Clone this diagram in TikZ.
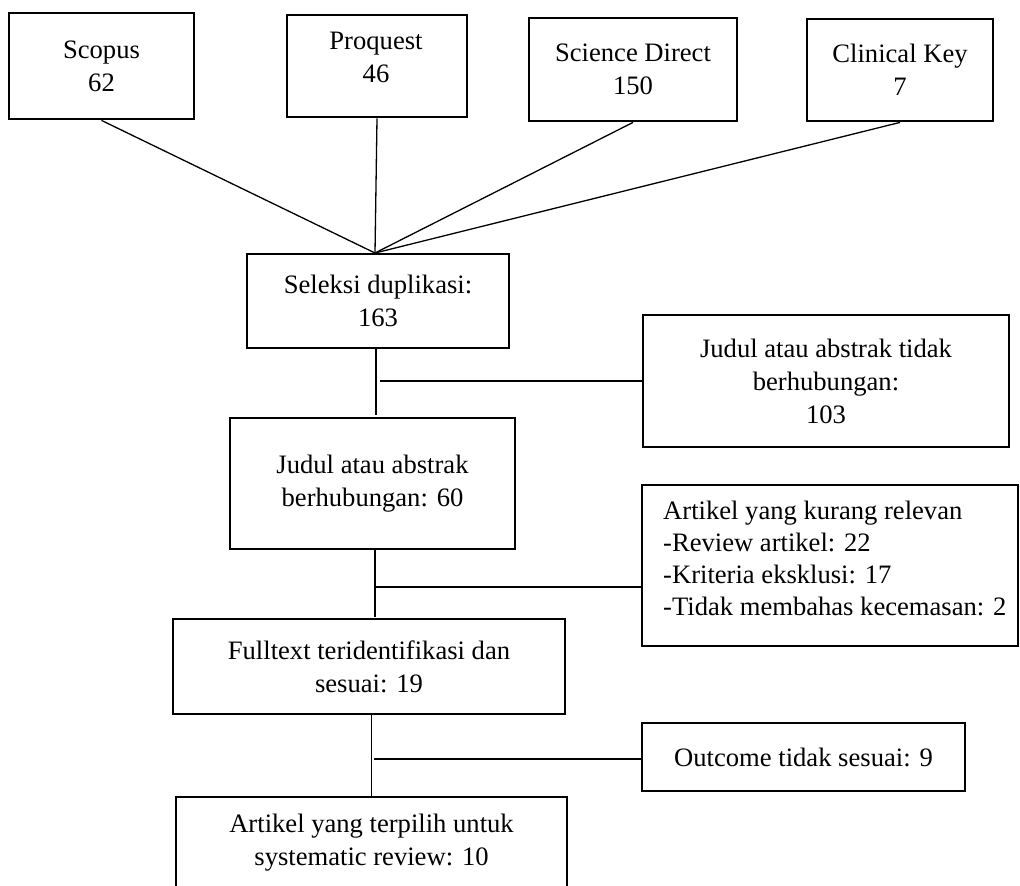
\documentclass[tikz,border=0pt]{standalone}
\usepackage{fontspec}
\setmainfont{Liberation Serif}
\begin{document}
\begin{tikzpicture}[x=1pt,y=-1pt,
  box/.style={draw, line width=2.8pt, inner sep=0pt, align=center,
    font=\fontsize{26.6}{33}\selectfont},
  txt/.style={align=center, inner sep=0pt, font=\fontsize{26.6}{33}\selectfont},
  link/.style={line width=1.3pt}]
\clip (0,0) rectangle (1020,886);
\fill[white] (0,0) rectangle (1020,886);
% source boxes
\node[box, minimum width=185pt, minimum height=106pt] (scopus) at (101.5,66) {Scopus\\62};
\node[box, minimum width=180pt, minimum height=102pt] (proquest) at (377,66) {};
\node[txt] (proquestT) at (376,57.5) {Proquest\\46};
\node[box, minimum width=208pt, minimum height=103pt] (scidir) at (633,69.5) {Science Direct\\150};
\node[box, minimum width=186pt, minimum height=102pt] (clin) at (900,70) {Clinical Key\\7};
% main flow
\node[box, minimum width=262pt, minimum height=94pt] (seleksi) at (378,301) {Seleksi duplikasi:\\163};
\node[box, minimum width=366pt, minimum height=132pt] (tidak) at (826,381) {Judul atau abstrak tidak\\berhubungan:\\103};
\node[box, minimum width=285pt, minimum height=131pt] (judul) at (372.5,483.5) {Judul atau abstrak\\berhubungan: 60};
\node[box, minimum width=376pt, minimum height=161pt] (kurang) at (830,565.5) {};
\node[txt, align=left, anchor=north west, font=\fontsize{26.6}{32}\selectfont] (kurangT) at (663,500.5)
  {Artikel yang kurang relevan\\-Review artikel: 22\\-Kriteria eksklusi: 17\\-Tidak membahas kecemasan: 2};
\node[box, minimum width=392pt, minimum height=95pt] (fulltext) at (369,666.5) {Fulltext teridentifikasi dan\\sesuai: 19};
\node[box, minimum width=323pt, minimum height=68pt] (outcome) at (803.5,757) {Outcome tidak sesuai: 9};
\node[box, minimum width=391pt, minimum height=92pt] (final) at (371.5,843) {Artikel yang terpilih untuk\\systematic review: 10};
% connectors
\coordinate (conv) at (375,253);
\draw[link] (scopus.south) -- (conv);
\draw[link] (proquest.south) -- (conv);
\draw[link] (scidir.south) -- (conv);
\draw[link] (clin.south) -- (conv);
\coordinate (c1) at (376,415);
\draw[link] (seleksi.south -| c1) -- (c1);
\coordinate (h1) at (380,381);
\draw[link] (h1) -- (h1 -| tidak.west);
\coordinate (c2) at (375,617);
\draw[link] (judul.south -| c2) -- (c2);
\coordinate (h2) at (375,587);
\draw[link] (h2) -- (h2 -| kurang.west);
\draw[link] (final.north |- fulltext.south) -- (final.north);
\coordinate (h3) at (374,759);
\draw[link] (h3) -- (h3 -| outcome.west);
\end{tikzpicture}
\end{document}
